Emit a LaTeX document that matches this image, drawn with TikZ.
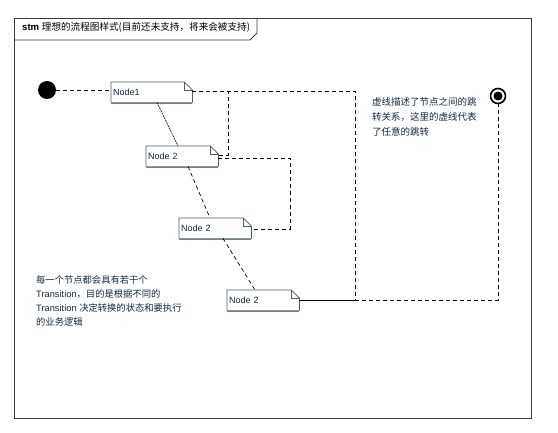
\documentclass[tikz,border=0pt]{standalone}
\usepackage{fontspec}
\setmainfont{Liberation Sans}
\newfontfamily\cjk{Noto Sans CJK SC}
\definecolor{textc}{RGB}{20,40,60}
\definecolor{framec}{RGB}{60,60,60}
\definecolor{notec}{RGB}{80,90,100}
\definecolor{shadc}{RGB}{110,130,145}
\newcommand\drawnote[1]{%
  \draw[shadc, line width=1.2pt] ([yshift=-1pt]#1.south west) -- ([yshift=-1pt]#1.south east);
  \draw[notec, line width=0.7pt] (#1.south west) -- (#1.north west) -- ([xshift=-8pt]#1.north east) -- ([yshift=-8pt]#1.north east) -- (#1.south east) -- cycle;
  \draw[notec, line width=0.6pt] ([xshift=-8pt]#1.north east) -- ([xshift=-8pt,yshift=-8pt]#1.north east) -- ([yshift=-8pt]#1.north east);
}
\begin{document}
\begin{tikzpicture}[x=1pt,y=-1pt,
  notebox/.style={anchor=north west, minimum height=20pt, text width=#1, inner xsep=2pt, inner ysep=0pt, align=left, fill=white, font=\fontsize{9}{11}\selectfont, text=textc},
  notebox/.default=68pt,
  conn/.style={dash pattern=on 4pt off 3pt, line width=0.7pt, black},
  solidconn/.style={dash pattern=on 2pt off 0.8pt, line width=0.6pt, black},
  comment/.style={anchor=north west, inner sep=0pt, align=left, text=textc},
  frameline/.style={framec, line width=0.8pt}
]
\useasboundingbox (0,0) rectangle (558,433);
% frame
\draw[frameline] (14,18) rectangle (531,418);
\draw[frameline] (14,40) -- (250,40) -- (257,33) -- (257,18);
\node[anchor=base west, inner sep=0pt, font=\fontsize{9.6}{11}\selectfont] (title) at (22,31) {\textbf{stm} {\cjk 理想的流程图样式(目前还未支持，将来会被支持)}};

% states
\node[circle, fill=black, minimum size=18pt, inner sep=0pt] (init) at (47,90) {};
\node[circle, draw, line width=1.6pt, minimum size=15pt, inner sep=0pt,
  path picture={\fill (path picture bounding box.center) circle (4.5pt);}] (fin) at (498,96) {};

% nodes
\node[notebox=77pt] (n1) at (111,82) {Node1};
\drawnote{n1}
\node[notebox] (n2a) at (146,146) {Node 2};
\drawnote{n2a}
\node[notebox] (n2b) at (179,218) {Node 2};
\drawnote{n2b}
\node[notebox] (n2c) at (227,290) {Node 2};
\drawnote{n2c}

% connectors
\draw[conn] (init.east) -- (init.east -| n1.west);
\draw[solidconn] ([xshift=46pt]n1.south west) -- ([xshift=32pt]n2a.north west);
\draw[conn] ([xshift=42pt]n2a.south west) -- ([xshift=31pt]n2b.north west);
\draw[conn] ([xshift=44pt]n2b.south west) -- ([xshift=28pt]n2c.north west);
\draw[conn] ([yshift=1pt]n1.east) -- ++(36,0) |- ([yshift=1pt]n2a.east);
\draw[conn] ([yshift=-2pt]n2a.east) -- ++(72,0) |- ([yshift=-1pt]n2b.east);
\draw[conn] ([yshift=1pt]n1.east) -- ++(163,0) |- (n2c.east);
\draw[conn] (n2c.east) -| (fin.south);

% comments
\node[comment, font=\fontsize{9.3}{14}\selectfont] (c1) at (36,275) {{\cjk 每一个节点都会具有若干个}\\Transition{\cjk ，目的是根据不同的}\\Transition {\cjk 决定转换的状态和要执行}\\{\cjk 的业务逻辑}};
\node[comment, font=\fontsize{9.5}{15}\selectfont] (c2) at (372,97) {{\cjk 虚线描述了节点之间的跳}\\{\cjk 转关系，这里的虚线代表}\\{\cjk 了任意的跳转}};
\end{tikzpicture}
\end{document}
